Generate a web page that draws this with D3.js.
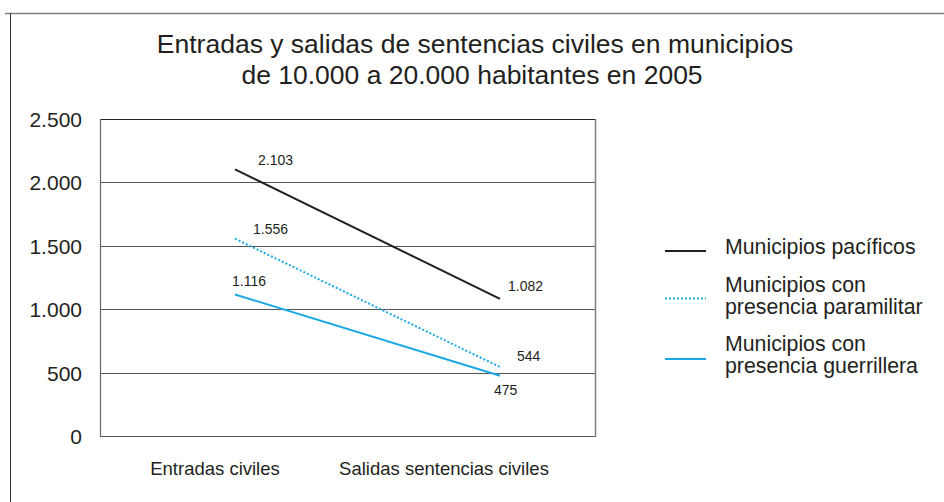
<!DOCTYPE html>
<html>
<head>
<meta charset="utf-8">
<script src="https://cdn.jsdelivr.net/npm/d3@7"></script>
<style>
  body { margin: 0; background: #fff; }
  svg { display: block; font-family: "Liberation Sans", Arial, sans-serif; }
</style>
</head>
<body>
<svg id="chart"></svg>
<script>
// Datos.
const CATEGORIAS = ["Entradas civiles", "Salidas sentencias civiles"];
const SERIES = ["Municipios pacíficos", "Municipios con presencia paramilitar", "Municipios con presencia guerrillera"];
const VALORES_PACIFICOS = [2103, 1082];
const VALORES_PARAMILITAR = [1556, 544];
const VALORES_GUERRILLERA = [1116, 475];
const TICKS_Y = [0, 500, 1000, 1500, 2000, 2500];

const WIDTH = 944;
const HEIGHT = 502;
const PLOT = { left: 100, right: 595, top: 119, bottom: 436 };
const TEXT_COLOR = "#231f20";
const AZUL = "#1aa9e4";

const svg = d3.select("svg#chart")
    .attr("width", WIDTH)
    .attr("height", HEIGHT);

// Marco exterior
svg.append("line")
    .attr("x1", 5).attr("x2", WIDTH).attr("y1", 13.5).attr("y2", 13.5)
    .attr("stroke", "#808080").attr("stroke-width", 1.5);
svg.append("line")
    .attr("x1", 10.5).attr("x2", 10.5).attr("y1", 13).attr("y2", HEIGHT)
    .attr("stroke", "#333").attr("stroke-width", 1);

// Titulo
const titulo = svg.append("text")
    .attr("text-anchor", "middle")
    .attr("font-size", 26.5)
    .attr("fill", TEXT_COLOR);
titulo.append("tspan").attr("x", 475).attr("y", 53)
    .text("Entradas y salidas de sentencias civiles en municipios");
titulo.append("tspan").attr("x", 472).attr("y", 84)
    .text("de 10.000 a 20.000 habitantes en 2005");

// Escalas
const y = d3.scaleLinear().domain([0, 2500]).range([PLOT.bottom, PLOT.top]);
const x = d3.scalePoint().domain(CATEGORIAS).range([235, 500]);
const xLabel = d3.scalePoint().domain(CATEGORIAS).range([215, 444]);

// Rejilla
svg.append("g")
    .selectAll("line.grid")
    .data(TICKS_Y.filter(d => d > 0 && d < 2500))
    .join("line")
        .attr("class", "grid")
        .attr("x1", PLOT.left).attr("x2", PLOT.right)
        .attr("y1", d => Math.round(y(d)) + 0.5).attr("y2", d => Math.round(y(d)) + 0.5)
        .attr("stroke", "#555").attr("stroke-width", 1.2);

// Marco del grafico
svg.append("line")
    .attr("x1", PLOT.left).attr("x2", PLOT.right)
    .attr("y1", PLOT.top + 0.5).attr("y2", PLOT.top + 0.5)
    .attr("stroke", "#222").attr("stroke-width", 1.2);
svg.append("line")
    .attr("x1", PLOT.left).attr("x2", PLOT.right)
    .attr("y1", PLOT.bottom + 0.5).attr("y2", PLOT.bottom + 0.5)
    .attr("stroke", "#555").attr("stroke-width", 1.2);
svg.append("line")
    .attr("x1", PLOT.left + 0.5).attr("x2", PLOT.left + 0.5)
    .attr("y1", PLOT.top).attr("y2", PLOT.bottom + 1)
    .attr("stroke", "#666").attr("stroke-width", 1.2);
svg.append("line")
    .attr("x1", PLOT.right + 0.5).attr("x2", PLOT.right + 0.5)
    .attr("y1", PLOT.top).attr("y2", PLOT.bottom + 1)
    .attr("stroke", "#808080").attr("stroke-width", 1.5);

// Eje Y
const ejeY = d3.axisLeft(y)
    .tickValues(TICKS_Y)
    .tickSize(0)
    .tickPadding(0)
    .tickFormat(d => d3.format(",")(d).replace(/,/g, "."));

svg.append("g")
    .attr("transform", `translate(82, 0)`)
    .call(ejeY)
    .call(g => g.select(".domain").remove())
    .call(g => g.selectAll("text")
        .attr("font-size", 21)
        .attr("font-family", "Liberation Sans, Arial, sans-serif")
        .attr("fill", TEXT_COLOR)
        .attr("dy", "0.36em"));

// Etiquetas de categorias
svg.append("g")
    .selectAll("text.cat")
    .data(CATEGORIAS)
    .join("text")
        .attr("class", "cat")
        .attr("x", d => xLabel(d))
        .attr("y", 475)
        .attr("text-anchor", "middle")
        .attr("font-size", 18.5)
        .attr("fill", TEXT_COLOR)
        .text(d => d);

// Lineas
const series = [
    { nombre: SERIES[0], valores: VALORES_PACIFICOS, color: TEXT_COLOR, dash: null, width: 2,
      etiquetas: [[23, -4], [8, -8]] },
    { nombre: SERIES[1], valores: VALORES_PARAMILITAR, color: AZUL, dash: "2,2", width: 2,
      etiquetas: [[18, -5], [17, -6]] },
    { nombre: SERIES[2], valores: VALORES_GUERRILLERA, color: AZUL, dash: null, width: 2,
      etiquetas: [[-3, -8], [-6, 19]] },
];

const linea = d3.line()
    .x((d, i) => x(CATEGORIAS[i]))
    .y(d => y(d));

const fmt = v => d3.format(",")(v).replace(/,/g, ".");

series.forEach(s => {
    svg.append("path")
        .datum(s.valores)
        .attr("d", linea)
        .attr("fill", "none")
        .attr("stroke", s.color)
        .attr("stroke-width", s.width)
        .attr("stroke-dasharray", s.dash);

    svg.append("g")
        .selectAll("text")
        .data(s.valores)
        .join("text")
            .attr("x", (d, i) => x(CATEGORIAS[i]) + s.etiquetas[i][0])
            .attr("y", (d, i) => y(d) + s.etiquetas[i][1])
            .attr("font-size", 14)
            .attr("fill", TEXT_COLOR)
            .text(d => fmt(d));
});

// Leyenda
const leyenda = svg.append("g");
const leyendaItems = [
    { serie: series[0], y: 251, lineas: ["Municipios pacíficos"], y0: 254 },
    { serie: series[1], y: 298.5, lineas: ["Municipios con", "presencia paramilitar"], y0: 292 },
    { serie: series[2], y: 359, lineas: ["Municipios con", "presencia guerrillera"], y0: 351 },
];

leyendaItems.forEach(it => {
    leyenda.append("line")
        .attr("x1", 665).attr("x2", 706)
        .attr("y1", it.y).attr("y2", it.y)
        .attr("stroke", it.serie.color)
        .attr("stroke-width", it.serie.width)
        .attr("stroke-dasharray", it.serie.dash);
    const t = leyenda.append("text")
        .attr("font-size", 21.3)
        .attr("fill", TEXT_COLOR);
    it.lineas.forEach((l, i) => {
        t.append("tspan").attr("x", 725).attr("y", it.y0 + i * 22).text(l);
    });
});
</script>
</body>
</html>
